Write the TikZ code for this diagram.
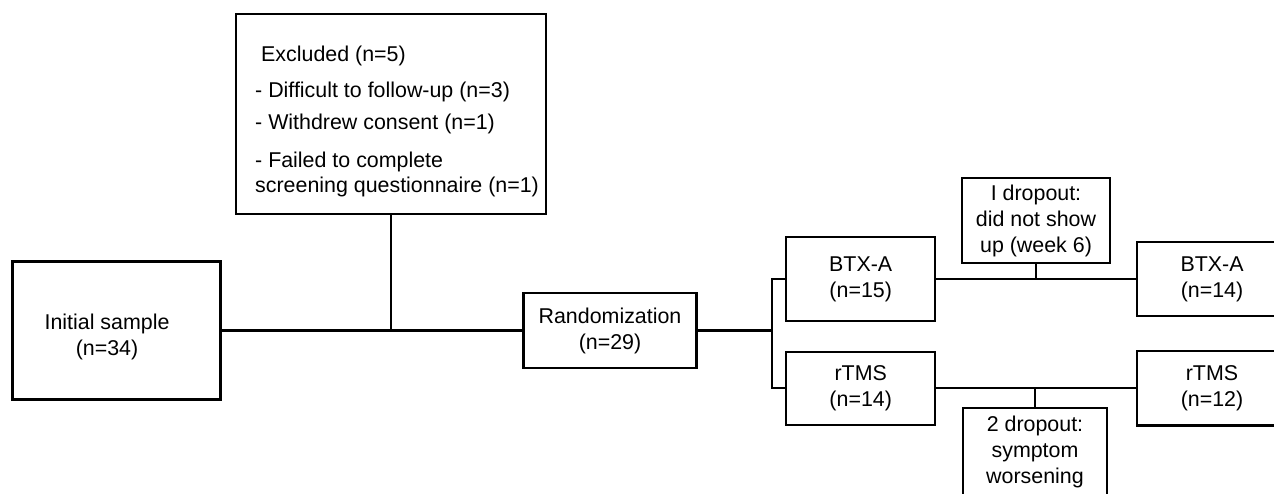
\documentclass[tikz,border=0pt]{standalone}
\usepackage{fontspec}
\setmainfont{Liberation Sans}
\begin{document}
\begin{tikzpicture}[x=1pt,y=-1pt,
  box/.style={draw, line width=2.3pt, inner sep=0pt},
  lbl/.style={font=\fontsize{21.4}{26}\selectfont, align=center, inner sep=0pt},
  conn/.style={line width=2.3pt}]
\clip (0,0) rectangle (1274,493);
% boxes
\node[box, minimum width=208pt, minimum height=138pt] (init) at (116.5,330.5) {};
\node[lbl] (inittxt) at (107,337) {Initial sample\\(n=34)};
\node[box, minimum width=310pt, minimum height=200pt] (excl) at (391,113.7) {};
\node[lbl, align=left, anchor=north west] (excltxt) at (255,46)
  {\hspace*{6pt}Excluded (n=5)\\[10pt]
   - Difficult to follow-up (n=3)\\[6pt]
   - Withdrew consent (n=1)\\[12pt]
   - Failed to complete\\[-1pt]
   screening questionnaire (n=1)};
\node[box, lbl, minimum width=173pt, minimum height=75pt] (rand) at (610,330.5) {Randomization\\(n=29)};
\node[box, lbl, minimum width=149pt, minimum height=84pt] (btx1) at (860.7,279) {BTX-A\\(n=15)};
\node[box, lbl, minimum width=149pt, minimum height=73pt] (rtms1) at (860.7,388.3) {rTMS\\(n=14)};
\node[box, lbl, minimum width=147.5pt, minimum height=85.6pt] (drop1) at (1036,220.5) {I dropout:\\did not show\\up (week 6)};
\node[box, lbl, minimum width=144.5pt, minimum height=88pt] (drop2) at (1035,452) {2 dropout:\\symptom\\worsening};
\node[box, lbl, minimum width=150pt, minimum height=74pt] (btx2) at (1212,279) {BTX-A\\(n=14)};
\node[box, lbl, minimum width=150pt, minimum height=74.5pt] (rtms2) at (1212,388.3) {rTMS\\(n=12)};
% connectors
\coordinate (split) at (772,330.5);
\draw[conn] (init.east) -- (rand.west);
\draw[conn] (excl.south) -- (excl.south |- init.east);
\draw[conn] (rand.east) -- (split);
\draw[conn] (btx1.west) -| (split) |- (rtms1.west);
\draw[conn] (btx1.east) -- (btx2.west);
\draw[conn] (drop1.south) -- (drop1.south |- btx1.east);
\draw[conn] (rtms1.east) -- (rtms2.west);
\draw[conn] (drop2.north) -- (drop2.north |- rtms1.east);
\end{tikzpicture}
\end{document}
